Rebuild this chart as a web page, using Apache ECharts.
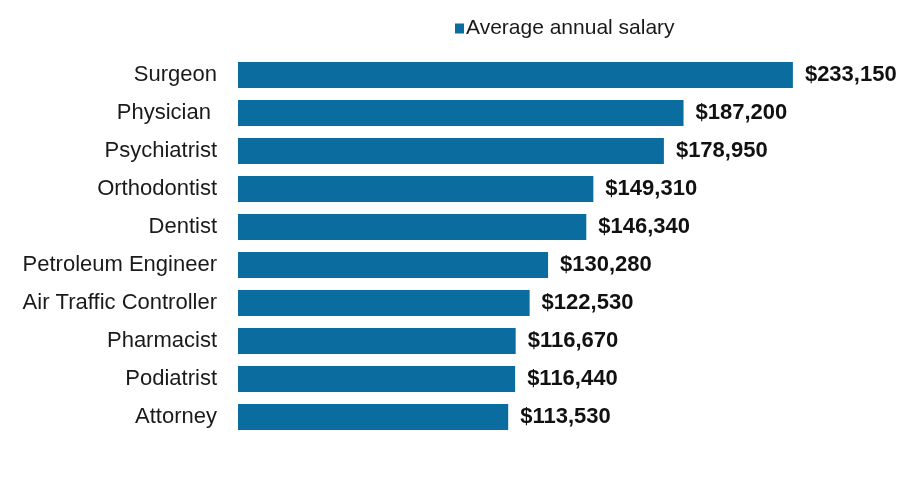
<!DOCTYPE html>
<html><head><meta charset="utf-8">
<script src="https://cdn.jsdelivr.net/npm/echarts@6/dist/echarts.min.js"></script>
<style>html,body{margin:0;padding:0;background:#fff}#c{width:900px;height:486px}</style>
</head><body><div id="c"></div>
<script>
const categories = ["Surgeon","Physician ","Psychiatrist","Orthodontist","Dentist","Petroleum Engineer","Air Traffic Controller","Pharmacist","Podiatrist","Attorney"];
const salaries = [233150,187200,178950,149310,146340,130280,122530,116670,116440,113530];
const seriesName = "Average annual salary";

const F = 'Liberation Sans, Arial, sans-serif';
const chart = echarts.init(document.getElementById('c'));
chart.setOption({
  animation:false,
  backgroundColor:'#fff',
  textStyle:{fontFamily:F},
  legend:{
    data:[seriesName], top:13, left:450, itemWidth:9, itemHeight:10, itemGap:4,
    icon:'rect',
    textStyle:{fontSize:21,color:'#1a1a1a',fontFamily:F,padding:[0,0,0,-3]}
  },
  grid:{left:238,top:56,width:595,height:380,containLabel:false},
  xAxis:{type:'value',min:0,max:250000,show:false},
  yAxis:{
    type:'category',data:categories,inverse:true,
    axisLine:{show:false},axisTick:{show:false},
    axisLabel:{fontSize:22,color:'#1a1a1a',margin:21,fontFamily:F}
  },
  series:[{
    name:seriesName,type:'bar',data:salaries,barCategoryGap:'32%',
    itemStyle:{color:'#0b6d9f'},
    label:{show:true,position:'right',distance:12,fontSize:22,fontWeight:'bold',color:'#111',
      fontFamily:F,
      formatter:p=>'$'+p.value.toLocaleString('en-US')}
  }]
});
</script></body></html>
